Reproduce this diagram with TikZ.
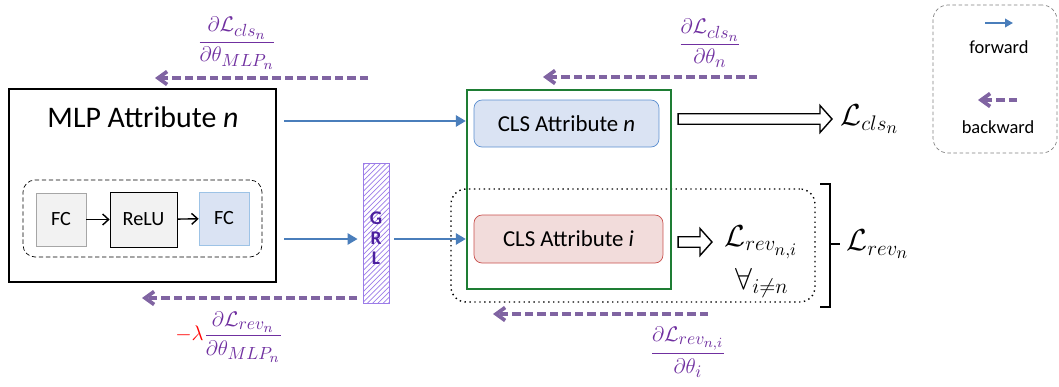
\documentclass[tikz,border=0pt]{standalone}
\usepackage{amsmath}
\usepackage{fontspec}
\setmainfont{Carlito}
\DeclareMathSizes{13}{13}{10}{8}
\DeclareMathSizes{17}{17}{13}{10}
\usetikzlibrary{arrows.meta,patterns,calc}
\definecolor{fwdc}{HTML}{4A7EBB}
\definecolor{bwdc}{HTML}{8064A2}
\definecolor{gradc}{HTML}{7030A0}
\definecolor{greenc}{HTML}{1E7D34}
\definecolor{clsnfill}{HTML}{DAE3F3}
\definecolor{clsndraw}{HTML}{5B8FD0}
\definecolor{clsifill}{HTML}{F2DCDB}
\definecolor{clsidraw}{HTML}{C9504D}
\definecolor{fcgray}{HTML}{F2F2F2}
\definecolor{fcgraydraw}{HTML}{A6A6A6}
\definecolor{fcbluedraw}{HTML}{9DC3E6}
\definecolor{grlc}{HTML}{9C7CE8}
\definecolor{grltext}{HTML}{4B1F9E}
\newcommand\hollowarrow[2]{\draw[hollow] let \p1=(#1), \p2=(#2) in
  (\x1,\y1+0.105cm) -- (\x2-0.24cm,\y1+0.105cm) -- (\x2-0.24cm,\y1+0.27cm) -- (\x2,\y1)
  -- (\x2-0.24cm,\y1-0.27cm) -- (\x2-0.24cm,\y1-0.105cm) -- (\x1,\y1-0.105cm) -- cycle;}
\begin{document}
\begin{tikzpicture}[x=0.02cm,y=-0.02cm,
  box/.style={draw, inner sep=0, align=center},
  fwd/.style={draw=fwdc, line width=1.6pt, -{Triangle[length=0.2cm,width=0.22cm]}},
  bwd/.style={draw=bwdc, line width=2.1pt, dash pattern=on 0.17cm off 0.08cm,
    -{Straight Barb[length=0.18cm,width=0.26cm]}},
  hollow/.style={draw, line width=0.8pt, fill=white},
  grad/.style={text=gradc, inner sep=0, font=\fontsize{13}{15}\selectfont},
  bigmath/.style={inner sep=0, font=\fontsize{17}{20}\selectfont}]
\useasboundingbox (0,0) rectangle (1059,386);

% legend
\node[box, draw=gray, dashed, dash pattern=on 2pt off 1.5pt, rounded corners=0.3cm,
  minimum width=2.48cm, minimum height=2.96cm] (legend) at (995,79) {};
\coordinate (lf1) at (985,23); \coordinate (lf2) at (1013,23);
\draw[fwd, line width=1.4pt, -{Triangle[length=0.16cm,width=0.17cm]}] (lf1) -- (lf2);
\node[font=\fontsize{10.5}{12}\selectfont] (lfwd) at (999,47) {forward};
\coordinate (lb1) at (1017,100); \coordinate (lb2) at (978,100);
\draw[bwd] (lb1) -- (lb2);
\node[font=\fontsize{10.5}{12}\selectfont] (lbwd) at (998,127) {backward};

% MLP
\node[box, line width=1.2pt, minimum width=5.34cm, minimum height=3.86cm] (mlp) at (142.5,185.5) {};
\node[font=\fontsize{17}{20}\selectfont] (mlptitle) at (143,117) {MLP Attribute \textit{n}};
\node[box, dashed, dash pattern=on 2.5pt off 1.5pt, rounded corners=0.24cm,
  minimum width=4.78cm, minimum height=1.54cm] (inner) at (142.5,218.5) {};
\node[box, fill=fcgray, draw=fcgraydraw, minimum width=1.0cm, minimum height=1.06cm,
  font=\fontsize{11.5}{13}\selectfont] (fc1) at (61,219.5) {FC};
\node[box, fill=fcgray, minimum width=1.34cm, minimum height=1.1cm,
  font=\fontsize{11.5}{13}\selectfont] (relu) at (143.5,219.5) {ReLU};
\node[box, fill=clsnfill, draw=fcbluedraw, minimum width=1.0cm, minimum height=1.06cm,
  font=\fontsize{11.5}{13}\selectfont] (fc2) at (224,218.5) {FC};
\draw[-{Straight Barb[length=0.12cm,width=0.22cm]}, line width=0.8pt] (fc1) -- (relu);
\draw[-{Straight Barb[length=0.12cm,width=0.22cm]}, line width=0.8pt] (relu) -- (fc2);

% GRL
\node[box, draw=grlc, pattern=north east lines, pattern color=grlc,
  minimum width=0.52cm, minimum height=2.8cm] (grl) at (376,233) {};
\node[text=grltext, font=\bfseries\fontsize{11}{11.5}\selectfont, align=center, inner sep=0] (grltxt) at (376,238) {G\\R\\L};

% dotted group and green box
\node[box, dotted, line width=0.8pt, rounded corners=0.3cm,
  minimum width=7.28cm, minimum height=2.26cm] (dotbox) at (633,245.5) {};
\node[box, draw=greenc, line width=1.3pt, minimum width=4.08cm, minimum height=3.98cm] (green) at (569,189.5) {};
\node[box, fill=clsnfill, draw=clsndraw, rounded corners=0.16cm, minimum width=3.7cm, minimum height=0.94cm,
  font=\fontsize{13}{15}\selectfont] (clsn) at (566.5,123.5) {CLS Attribute \textit{n}};
\node[box, fill=clsifill, draw=clsidraw, rounded corners=0.16cm, minimum width=3.78cm, minimum height=0.96cm,
  font=\fontsize{13}{15}\selectfont] (clsi) at (568.5,239) {CLS Attribute \textit{i}};

% forward arrows
\draw[fwd] ([xshift=0.14cm]mlp.east |- 0,121) -- (green.west |- 0,121);
\draw[fwd] ([xshift=0.14cm]mlp.east |- clsi.west) -- ([xshift=-0.1cm]grl.west |- clsi.west);
\draw[fwd] ([xshift=0.1cm]grl.east |- clsi.west) -- (green.west |- clsi.west);

% losses
\node[bigmath, anchor=west] (lcls) at (840,119) {$\mathcal{L}_{cls_n}$};
\node[bigmath, anchor=west] (lrevi) at (724,242) {$\mathcal{L}_{rev_{n,i}}$};
\node[bigmath] (forall) at (762,283) {$\forall_{i\neq n}$};
\node[bigmath, anchor=west] (lrev) at (846,244) {$\mathcal{L}_{rev_n}$};
\hollowarrow{[xshift=0.12cm]green.east |- lcls.west}{[xshift=-0.16cm]lcls.west}
\hollowarrow{[xshift=0.12cm]green.east |- lrevi.west}{[xshift=-0.24cm]lrevi.west}
\coordinate (tick) at (840,244);
\draw[line width=0.8pt] (820,184) -- (830,184) -- (830,307) -- (820,307);
\draw[line width=0.8pt] (830,244) -- (tick);

% backward arrows
\coordinate (b1s) at (368,78); \coordinate (b1e) at (155,78);
\coordinate (b2s) at (757,77); \coordinate (b2e) at (543,77);
\coordinate (b3s) at (357,298); \coordinate (b3e) at (142,298);
\coordinate (b4s) at (708,314); \coordinate (b4e) at (493,314);
\draw[bwd] (b1s) -- (b1e);
\draw[bwd] (b2s) -- (b2e);
\draw[bwd] (b3s) -- (b3e);
\draw[bwd] (b4s) -- (b4e);

% gradient labels
\node[grad] (g1) at (237,43) {$\dfrac{\partial\mathcal{L}_{cls_n}}{\partial\theta_{MLP_n}}$};
\node[grad] (g2) at (710,43) {$\dfrac{\partial\mathcal{L}_{cls_n}}{\partial\theta_n}$};
\node[grad] (g3) at (229,337) {${\color{red}-\lambda}\dfrac{\partial\mathcal{L}_{rev_n}}{\partial\theta_{MLP_n}}$};
\node[grad] (g4) at (688,352) {$\dfrac{\partial\mathcal{L}_{rev_{n,i}}}{\partial\theta_i}$};
\end{tikzpicture}
\end{document}
